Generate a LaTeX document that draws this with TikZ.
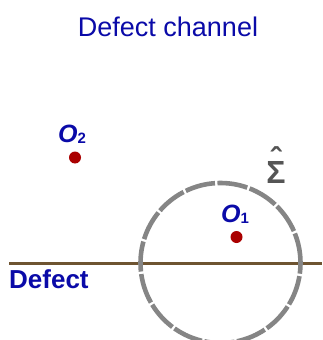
\documentclass[tikz,border=0pt]{standalone}
\usepackage{fontspec}
\setmainfont{Liberation Sans}
\usetikzlibrary{positioning}
\definecolor{labC}{HTML}{0A0AA8}
\definecolor{dotC}{HTML}{AA0000}
\definecolor{defC}{HTML}{6E5431}
\definecolor{sigC}{HTML}{858585}
\definecolor{hatC}{HTML}{555555}
\newcommand\subidx[1]{\raisebox{-1pt}{\fontsize{15}{17}\selectfont\bfseries\upshape #1}}

\begin{document}
\begin{tikzpicture}[
  x=1pt, y=-1pt,
  every node/.style={inner sep=0pt, text=labC},
  title/.style={font=\fontsize{27}{30}\selectfont},
  ptlabel/.style={font=\fontsize{25}{28}\selectfont\bfseries\itshape, anchor=base},
  symb/.style={font=\fontsize{32}{34}\selectfont\bfseries, text=hatC, align=center},
  pt/.style={circle, fill=dotC, minimum size=12pt},
  defline/.style={draw=defC, line width=3pt},
  sigma/.style={draw=sigC, line width=4.6pt, dash pattern=on 30.3pt off 2.5pt},
]
\useasboundingbox (0,0) rectangle (322,340);

% ── Title ──
\node[title] (ttl) at (168,27) {Defect channel};

% ── Defect line ──
\coordinate (dl) at (9,263);
\coordinate (dr) at (322,263);
\draw[defline] (dl) -- (dr);
\node[font=\fontsize{26}{28}\selectfont\bfseries, anchor=base west] (dlab) at (9,288) {Defect};

% ── Surface Sigma ──
\coordinate (c) at (220.5,263);
\draw[sigma] (c) circle[radius=80pt];
\node[symb, anchor=south] (sig) at (276,184) {ˆ\\[-21pt]Σ};

% ── Operators ──
\node[pt] (o1) at (236.5,237) {};
\node[ptlabel] (o1lab) at (235,222) {O\subidx{1}};
\node[pt] (o2) at (75,157.5) {};
\node[ptlabel] (o2lab) at (72,142) {O\subidx{2}};

\end{tikzpicture}
\end{document}
